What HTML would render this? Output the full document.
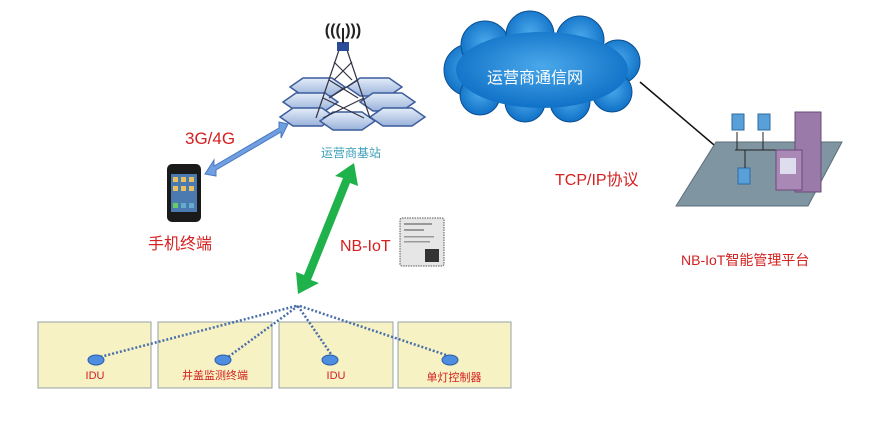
<!DOCTYPE html>
<html><head><meta charset="utf-8"><style>
body{margin:0;background:#fff;}
svg{display:block;font-family:"Liberation Sans","Noto Sans CJK SC",sans-serif;}
</style></head><body>
<svg width="885" height="422" viewBox="0 0 885 422" xmlns="http://www.w3.org/2000/svg">
<defs>
<linearGradient id="hx" x1="0" y1="0" x2="0" y2="1"><stop offset="0" stop-color="#e4edf9"/><stop offset="1" stop-color="#9ab2da"/></linearGradient>
<radialGradient id="cl" cx="0.5" cy="0.45" r="0.6"><stop offset="0" stop-color="#4aa8ea"/><stop offset="1" stop-color="#0a6cc4"/></radialGradient>
</defs>
<!-- tower hexes -->
<g fill="url(#hx)" stroke="#3c5c9c" stroke-width="1.5">
<polygon points="290,87 303,78 332,78 345,87 332,96 303,96"/>
<polygon points="347,87 360,78 389,78 402,87 389,96 360,96"/>
<polygon points="283,102 296,93 325,93 338,102 325,111 296,111"/>
<polygon points="360,102 373,93 402,93 415,102 402,111 373,111"/>
<polygon points="280,117 293,108 322,108 335,117 322,126 293,126"/>
<polygon points="320,121 333,112 362,112 375,121 362,130 333,130"/>
<polygon points="370,117 383,108 412,108 425,117 412,126 383,126"/>
</g>
<!-- tower -->
<g stroke="#334" stroke-width="1.2" fill="none">
<line x1="339" y1="50" x2="316" y2="118"/><line x1="347" y1="50" x2="370" y2="118"/>
<line x1="334" y1="62" x2="352" y2="80"/><line x1="352" y1="62" x2="334" y2="80"/>
<line x1="329" y1="80" x2="358" y2="98"/><line x1="358" y1="80" x2="329" y2="98"/>
<line x1="323" y1="98" x2="364" y2="118"/><line x1="364" y1="98" x2="323" y2="118"/>
</g>
<rect x="337" y="42" width="12" height="9" fill="#2a4a9a"/>
<line x1="343" y1="28" x2="343" y2="43" stroke="#222" stroke-width="2"/>
<text x="343" y="35" font-size="16" text-anchor="middle" fill="#222" font-weight="bold">((( )))</text>
<text x="351" y="157" font-size="12" text-anchor="middle" fill="#3a9fb8">运营商基站</text>
<!-- cloud -->
<g fill="url(#cl)" stroke="#0c4f8f" stroke-width="1">
<circle cx="470" cy="70" r="26"/><circle cx="485" cy="45" r="24"/><circle cx="530" cy="35" r="24"/><circle cx="580" cy="40" r="24"/>
<circle cx="618" cy="62" r="22"/><circle cx="612" cy="92" r="20"/><circle cx="570" cy="102" r="20"/><circle cx="525" cy="102" r="20"/><circle cx="480" cy="95" r="20"/>
</g>
<ellipse cx="542" cy="70" rx="86" ry="38" fill="url(#cl)"/>
<text x="487" y="83" font-size="16" fill="#fff">运营商通信网</text>
<line x1="640" y1="82" x2="720" y2="150" stroke="#111" stroke-width="1.5"/>
<text x="555" y="185" font-size="16" fill="#d42020">TCP/IP协议</text>
<!-- platform -->
<polygon points="716,142 842,142 808,206 676,206" fill="#7f95a2" stroke="#5b6e7a"/>
<g fill="#5aa0d8" stroke="#2f6a9e"><rect x="732" y="114" width="12" height="16"/><rect x="758" y="114" width="12" height="16"/><rect x="738" y="168" width="12" height="16"/></g>
<g stroke="#222" stroke-width="1" fill="none"><line x1="735" y1="150" x2="780" y2="150"/><line x1="737" y1="132" x2="737" y2="150"/><line x1="763" y1="132" x2="763" y2="150"/><line x1="745" y1="150" x2="745" y2="168"/></g>
<rect x="795" y="112" width="26" height="80" fill="#9a7aa8" stroke="#6a4a7a"/>
<rect x="776" y="150" width="26" height="40" fill="#a988b6" stroke="#6a4a7a"/>
<rect x="780" y="158" width="16" height="16" fill="#dde"/>
<text x="681" y="265" font-size="14" fill="#d42020">NB-IoT智能管理平台</text>
<!-- phone -->
<rect x="167" y="164" width="34" height="58" rx="5" fill="#1a1a1a"/>
<rect x="171" y="174" width="26" height="38" fill="#4a7ab0"/>
<g fill="#e8c060"><rect x="173" y="177" width="5" height="5"/><rect x="181" y="177" width="5" height="5"/><rect x="189" y="177" width="5" height="5"/><rect x="173" y="186" width="5" height="5"/><rect x="181" y="186" width="5" height="5"/><rect x="189" y="186" width="5" height="5"/><rect x="173" y="203" width="5" height="5" fill="#6c6"/><rect x="181" y="203" width="5" height="5" fill="#6ac"/><rect x="189" y="203" width="5" height="5" fill="#6ac"/></g>
<text x="148" y="249" font-size="16" fill="#d42020">手机终端</text>
<text x="185" y="144" font-size="17" fill="#d42020">3G/4G</text>
<!-- blue arrow -->
<g fill="#6f9fe0" stroke="#4a78c0" stroke-width="1">
<polygon points="205,174 214,160 214,166 279,128 279,122 288,124 281,138 281,132 216,170 216,176"/>
</g>
<!-- green arrow -->
<polygon points="298,294 296,272 304,275 343,178 335,176 354,163 358,186 350,183 311,280 319,283" fill="#1fb24a"/>
<text x="340" y="251" font-size="16" fill="#d42020">NB-IoT</text>
<!-- chip -->
<rect x="400" y="218" width="44" height="48" rx="2" fill="#e6e6e6" stroke="#555" stroke-dasharray="1.5,1"/>
<g fill="#999"><rect x="404" y="223" width="28" height="2"/><rect x="404" y="229" width="20" height="2"/><rect x="404" y="236" width="30" height="1.5"/><rect x="404" y="241" width="26" height="1.5"/></g>
<rect x="425" y="249" width="14" height="13" fill="#333"/>
<!-- boxes -->
<g fill="#f6f2c4" stroke="#97a2a6" stroke-width="1">
<rect x="38" y="322" width="113" height="66"/><rect x="158" y="322" width="114" height="66"/>
<rect x="279" y="322" width="114" height="66"/><rect x="398" y="322" width="113" height="66"/>
</g>
<g stroke="#4a6fa8" stroke-width="2.5" stroke-dasharray="2,2" fill="none">
<line x1="296" y1="306" x2="100" y2="357"/><line x1="298" y1="306" x2="228" y2="357"/>
<line x1="298" y1="306" x2="333" y2="357"/><line x1="300" y1="306" x2="452" y2="357"/>
</g>
<g fill="#4d8ee0" stroke="#2e5fa8"><ellipse cx="96" cy="360" rx="8" ry="5"/><ellipse cx="223" cy="360" rx="8" ry="5"/><ellipse cx="330" cy="360" rx="8" ry="5"/><ellipse cx="450" cy="360" rx="8" ry="5"/></g>
<g font-size="11" fill="#d42020" text-anchor="middle">
<text x="95" y="379">IDU</text><text x="215" y="379">井盖监测终端</text><text x="336" y="379">IDU</text><text x="454" y="381">单灯控制器</text>
</g>
</svg>
</body></html>
